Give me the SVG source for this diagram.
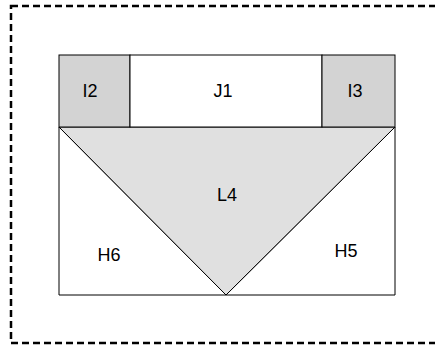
<svg xmlns="http://www.w3.org/2000/svg" width="435" height="345" viewBox="0 0 435 345">
<style>
.box{stroke:#000;stroke-width:1}
.gray{fill:#d3d3d3}
.white{fill:#fff}
.tri{fill:#e0e0e0;stroke:#000;stroke-width:1}
text{font-family:"Liberation Sans",Arial,sans-serif;font-size:18px;fill:#000;text-anchor:middle}
</style>
<rect width="435" height="345" fill="#fff"/>
<rect id="frame" x="11" y="6" width="440" height="337" fill="none" stroke="#000" stroke-width="2.5" stroke-dasharray="7 4"/>
<g id="H6"><polygon class="box white" points="59,127 226,295 59,295"/><text x="109" y="261">H6</text></g>
<g id="H5"><polygon class="box white" points="395,127 395,295 226,295"/><text x="346" y="257">H5</text></g>
<g id="L4"><polygon class="tri" points="59,127 395,127 226,295"/><text x="227" y="201">L4</text></g>
<g id="I2"><rect class="box gray" x="59" y="55" width="71" height="72"/><text x="90" y="97">I2</text></g>
<g id="J1"><rect class="box white" x="130" y="55" width="192" height="72"/><text x="223" y="97">J1</text></g>
<g id="I3"><rect class="box gray" x="322" y="55" width="73" height="72"/><text x="355" y="97">I3</text></g>
<g id="connectors"></g>
</svg>
